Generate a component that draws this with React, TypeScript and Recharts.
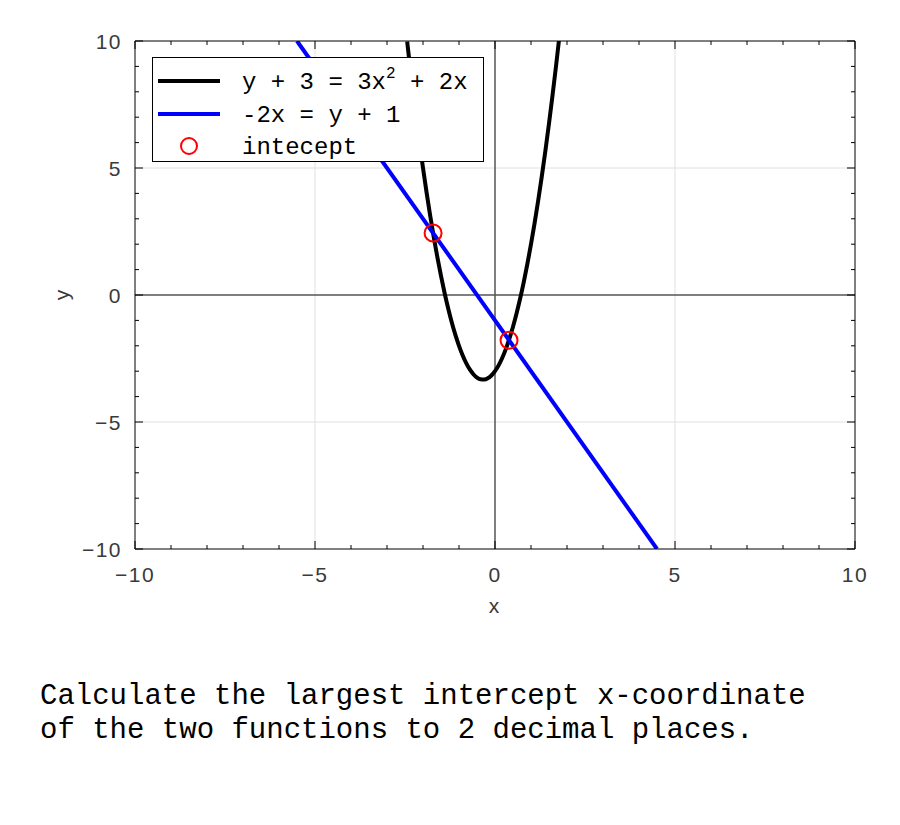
import React from "react";
import {
  ComposedChart,
  Line,
  Scatter,
  XAxis,
  YAxis,
  ReferenceLine,
  Legend,
} from "recharts";

// parabola y + 3 = 3x^2 + 2x
const curveX = [
  -2.44, -2.4, -2.3, -2.2, -2.1, -2.0, -1.9, -1.8, -1.7, -1.6, -1.5, -1.4, -1.3,
  -1.2, -1.1, -1.0, -0.9, -0.8, -0.7, -0.6, -0.5, -0.4, -0.3, -0.2, -0.1, 0,
  0.1, 0.2, 0.3, 0.4, 0.5, 0.6, 0.7, 0.8, 0.9, 1.0, 1.1, 1.2, 1.3, 1.4, 1.5,
  1.6, 1.7, 1.78,
];
const curveY = [
  9.98, 9.48, 8.27, 7.12, 6.03, 5.0, 4.03, 3.12, 2.27, 1.48, 0.75, 0.08, -0.53,
  -1.08, -1.57, -2.0, -2.37, -2.68, -2.93, -3.12, -3.25, -3.32, -3.33, -3.28,
  -3.17, -3.0, -2.77, -2.48, -2.13, -1.72, -1.25, -0.72, -0.13, 0.52, 1.23, 2.0,
  2.83, 3.72, 4.67, 5.68, 6.75, 7.88, 9.07, 10.07,
];

// straight line -2x = y + 1
const lineX = [-5.5, 4.5];
const lineY = [10, -10];

// intercept markers
const hitX = [-1.72, 0.39];
const hitY = [2.44, -1.78];

const tickValues = [
  -10, -9, -8, -7, -6, -5, -4, -3, -2, -1, 0, 1, 2, 3, 4, 5, 6, 7, 8, 9, 10,
];
const gridValues = [-5, 5];

const curveData = curveX.map((x, i) => ({ x, y: curveY[i] }));
const lineData = lineX.map((x, i) => ({ x, y: lineY[i] }));
const hitData = hitX.map((x, i) => ({ x, y: hitY[i] }));

const TICK_FONT = "'Liberation Sans', Arial, sans-serif";
const MONO = "'Liberation Mono', 'Courier New', monospace";

const fmt = (v: number) => (v < 0 ? "\u2212" + Math.abs(v) : String(v));

const makeTick = (side: "bottom" | "top" | "left" | "right") => (props: any) => {
  const { x, y, payload } = props;
  const v = payload.value as number;
  const major = v % 5 === 0;
  const len = major ? 8 : 4;
  let line;
  if (side === "bottom") line = <line x1={x} y1={y} x2={x} y2={y - len} stroke="#000" />;
  else if (side === "top") line = <line x1={x} y1={y} x2={x} y2={y + len} stroke="#000" />;
  else if (side === "left") line = <line x1={x} y1={y} x2={x + len} y2={y} stroke="#000" />;
  else line = <line x1={x} y1={y} x2={x - len} y2={y} stroke="#000" />;
  let label = null;
  if (major && side === "bottom") {
    label = (
      <text x={x} y={y + 33} textAnchor="middle" fontFamily={TICK_FONT} fontSize={21} letterSpacing={1.5} fill="#3a3a3a">
        {fmt(v)}
      </text>
    );
  } else if (major && side === "left") {
    label = (
      <text x={x - 13} y={y + 8} textAnchor="end" fontFamily={TICK_FONT} fontSize={21} letterSpacing={1.5} fill="#3a3a3a">
        {fmt(v)}
      </text>
    );
  }
  return (
    <g>
      {line}
      {label}
    </g>
  );
};

const LegendBox = () => (
  <svg width={333} height={106} style={{ display: "block" }}>
    <rect x={0.5} y={0.5} width={331} height={104} fill="#fff" stroke="#000" />
    <line x1={6} y1={24} x2={68} y2={24} stroke="#000" strokeWidth={4} />
    <text x={90} y={32} fontFamily={MONO} fontSize={24} fill="#000">
      y + 3 = 3x
      <tspan fontSize={16} dy={-11}>2</tspan>
      <tspan dy={11}> + 2x</tspan>
    </text>
    <line x1={6} y1={57} x2={68} y2={57} stroke="#0000ff" strokeWidth={4} />
    <text x={90} y={65} fontFamily={MONO} fontSize={24} fill="#000">
      -2x = y + 1
    </text>
    <circle cx={37} cy={89} r={8} fill="none" stroke="#ff0000" strokeWidth={2} />
    <text x={90} y={97} fontFamily={MONO} fontSize={24} fill="#000">
      intecept
    </text>
  </svg>
);

export default function App() {
  return (
    <div style={{ position: "absolute", left: 0, top: 0, width: 900, height: 825, background: "#fff" }}>
      <ComposedChart
        width={900}
        height={825}
        margin={{ top: 40, right: 44, bottom: 275, left: 134 }}
      >
        <XAxis
          xAxisId={0}
          type="number"
          dataKey="x"
          domain={[-10, 10]}
          ticks={tickValues}
          interval={0}
          allowDataOverflow
          height={1}
          tickSize={0}
          tickMargin={0}
          tickLine={false}
          tick={makeTick("bottom")}
          axisLine={{ stroke: "#000" }}
          label={{
            content: () => (
              <text x={494} y={613} textAnchor="middle" fontFamily={TICK_FONT} fontSize={21} fill="#3a3a3a">
                x
              </text>
            ),
          }}
        />
        <XAxis
          xAxisId="top"
          orientation="top"
          type="number"
          dataKey="x"
          domain={[-10, 10]}
          ticks={tickValues}
          interval={0}
          allowDataOverflow
          height={1}
          tickSize={0}
          tickMargin={0}
          tickLine={false}
          tick={makeTick("top")}
          axisLine={{ stroke: "#000" }}
        />
        <YAxis
          yAxisId={0}
          type="number"
          domain={[-10, 10]}
          ticks={tickValues}
          interval={0}
          allowDataOverflow
          width={1}
          tickSize={0}
          tickMargin={0}
          tickLine={false}
          tick={makeTick("left")}
          axisLine={{ stroke: "#000" }}
          label={{
            content: () => (
              <text
                x={0}
                y={0}
                transform="translate(69 295) rotate(-90)"
                textAnchor="middle"
                fontFamily={TICK_FONT}
                fontSize={21}
                fill="#3a3a3a"
              >
                y
              </text>
            ),
          }}
        />
        <YAxis
          yAxisId="right"
          orientation="right"
          type="number"
          domain={[-10, 10]}
          ticks={tickValues}
          interval={0}
          allowDataOverflow
          width={1}
          tickSize={0}
          tickMargin={0}
          tickLine={false}
          tick={makeTick("right")}
          axisLine={{ stroke: "#000" }}
        />
        {gridValues.map((v) => (
          <ReferenceLine key={"gx" + v} x={v} stroke="#e0e0e0" strokeWidth={1} />
        ))}
        {gridValues.map((v) => (
          <ReferenceLine key={"gy" + v} y={v} stroke="#e0e0e0" strokeWidth={1} />
        ))}
        <ReferenceLine x={0} stroke="#555" strokeWidth={1.5} />
        <ReferenceLine y={0} stroke="#555" strokeWidth={1.5} />
        <Line
          data={curveData}
          dataKey="y"
          type="monotone"
          stroke="#000"
          strokeWidth={4}
          dot={false}
          activeDot={false}
          isAnimationActive={false}
          name="y + 3 = 3x^2 + 2x"
        />
        <Line
          data={lineData}
          dataKey="y"
          type="linear"
          stroke="#0000ff"
          strokeWidth={4}
          dot={false}
          activeDot={false}
          isAnimationActive={false}
          name="-2x = y + 1"
        />
        <Scatter
          data={hitData}
          dataKey="y"
          isAnimationActive={false}
          name="intecept"
          shape={(p: any) => (
            <circle cx={p.cx} cy={p.cy} r={8.5} fill="none" stroke="#ff0000" strokeWidth={2} />
          )}
        />
        <Legend
          layout="vertical"
          align="center"
          verticalAlign="middle"
          wrapperStyle={{ left: 152, top: 57, width: 333, height: 106 }}
          content={() => <LegendBox />}
        />
      </ComposedChart>
      <div
        style={{
          position: "absolute",
          left: 40,
          top: 680,
          fontFamily: MONO,
          fontSize: 29,
          lineHeight: "34px",
          color: "#000",
          whiteSpace: "pre",
        }}
      >
        {"Calculate the largest intercept x-coordinate\nof the two functions to 2 decimal places."}
      </div>
    </div>
  );
}
